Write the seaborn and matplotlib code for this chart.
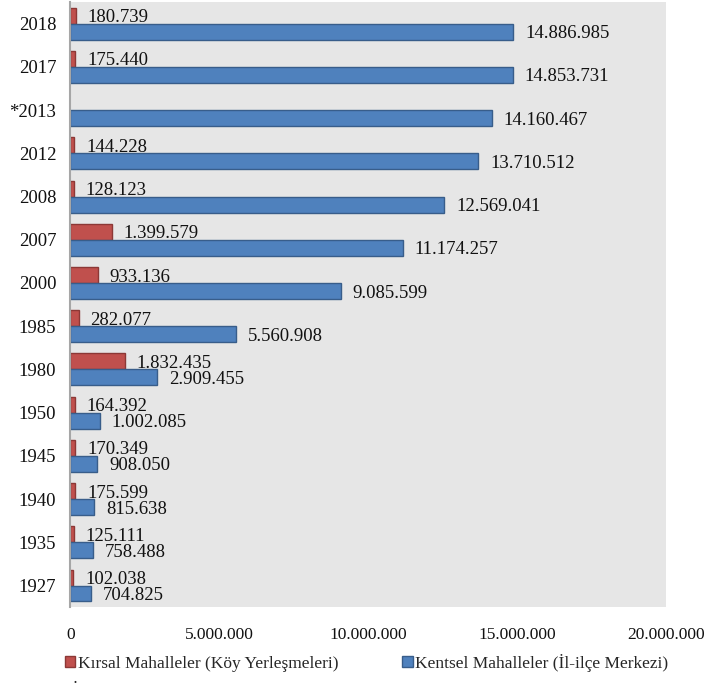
import matplotlib
matplotlib.use("Agg")
import matplotlib.pyplot as plt
import seaborn as sns
import pandas as pd
import numpy as np
from matplotlib.patches import Patch

years = ["2018", "2017", "*2013", "2012", "2008", "2007", "2000", "1985",
         "1980", "1950", "1945", "1940", "1935", "1927"]
kirsal = [180739, 175440, np.nan, 144228, 128123, 1399579, 933136, 282077,
          1832435, 164392, 170349, 175599, 125111, 102038]
kentsel = [14886985, 14853731, 14160467, 13710512, 12569041, 11174257, 9085599,
           5560908, 2909455, 1002085, 908050, 815638, 758488, 704825]
series = ["Kırsal Mahalleler (Köy Yerleşmeleri)", "Kentsel Mahalleler (İl-ilçe Merkezi)"]
xticks = [0, 5000000, 10000000, 15000000, 20000000]

df = pd.DataFrame({
    "year": years * 2,
    "value": kirsal + kentsel,
    "series": [series[0]] * len(years) + [series[1]] * len(years),
})

sns.set_theme(style="white")
plt.rcParams["font.family"] = ["Liberation Serif", "DejaVu Serif"]

red = "#C0504D"
blue = "#4F81BD"
red_edge = "#8C3836"
blue_edge = "#385D8A"

fig = plt.figure(figsize=(7.09, 6.86), dpi=100)
ax = fig.add_axes([0.099, 0.115, 0.840, 0.882])
ax.set_facecolor("#E6E6E6")

sns.barplot(data=df, y="year", x="value", hue="series", order=years,
            hue_order=series, palette=[red, blue], orient="h", width=0.74,
            dodge=True, ax=ax, legend=False, saturation=1)

edges = [red_edge, blue_edge]
def fmt(v):
    return f"{int(v):,}".replace(",", ".")

for i, cont in enumerate(ax.containers):
    for p in cont.patches:
        if p is None:
            continue
        p.set_edgecolor(edges[i])
        p.set_linewidth(1.0)
        w = p.get_width()
        if np.isnan(w):
            continue
        yc = p.get_y() + p.get_height() / 2
        ax.annotate(fmt(w), (w, yc), xytext=(8.5, -1.5), textcoords="offset points",
                    va="center", ha="left", fontsize=13.5, color="#111111")

ax.set_xlim(0, 20000000)
ax.set_xticks(xticks)
ax.set_xticklabels([fmt(t) for t in xticks], fontsize=12.5)
ax.tick_params(axis="x", length=0, pad=14)
ax.tick_params(axis="y", length=0, pad=10, labelsize=13.5)
for lab in ax.get_yticklabels():
    lab.set_color("#111111")
for lab in ax.get_xticklabels():
    lab.set_color("#111111")
ax.set_xlabel("")
ax.set_ylabel("")
for s in ["top", "right", "bottom"]:
    ax.spines[s].set_visible(False)
ax.spines["left"].set_color("#A6A6A6")
ax.spines["left"].set_linewidth(1.5)

handles = [Patch(facecolor=red, edgecolor=red_edge), Patch(facecolor=blue, edgecolor=blue_edge)]
fig.legend(handles, series, loc="center", bbox_to_anchor=(0.517, 0.034), ncol=2,
           frameon=False, fontsize=12.5, handlelength=0.6, handleheight=0.6,
           handletextpad=0.15, columnspacing=3.7, borderpad=0.2)
fig.text(0.104, 0.0, ".", fontsize=9, fontweight="bold", va="bottom")

fig.savefig("out.png", dpi=100)
